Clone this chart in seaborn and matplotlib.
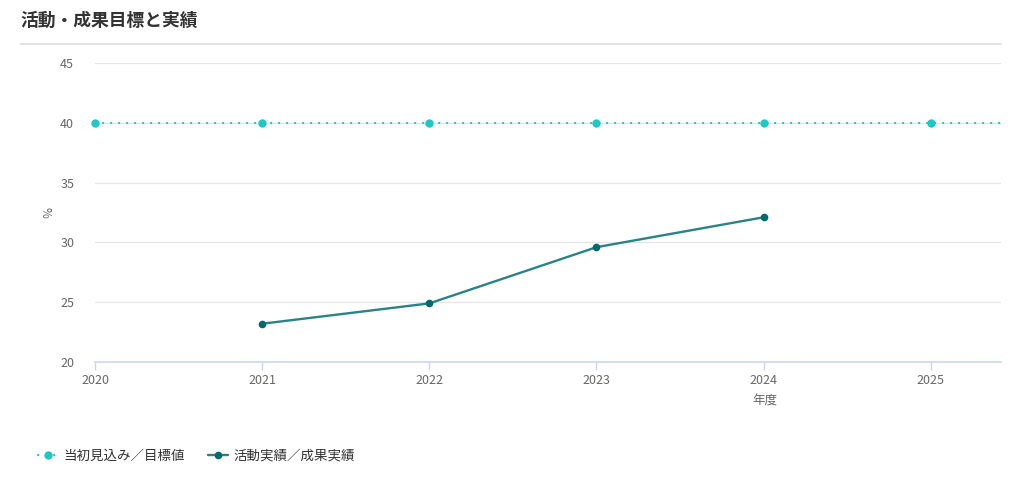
import pandas as pd
import matplotlib
matplotlib.use("Agg")
import matplotlib.pyplot as plt
import seaborn as sns
from matplotlib.lines import Line2D
from matplotlib.patches import Rectangle

years_target = [2020, 2021, 2022, 2023, 2024, 2025, 2026]
target = [40, 40, 40, 40, 40, 40, 40]
years_actual = [2021, 2022, 2023, 2024]
actual = [23.2, 24.9, 29.6, 32.1]

label_target = "当初見込み／目標値"
label_actual = "活動実績／成果実績"
yticks = [20, 25, 30, 35, 40, 45]
xticks = [2020, 2021, 2022, 2023, 2024, 2025]

sns.set_theme(style="white")
plt.rcParams["font.family"] = ["Noto Sans CJK JP", "DejaVu Sans"]

cyan = "#1ec8c4"
dark = "#006b6e"
dark_line = "#2a8385"
dots = (0, (0.1, 3.5))

df_t = pd.DataFrame({"year": years_target, "value": target})
df_a = pd.DataFrame({"year": years_actual, "value": actual})

fig = plt.figure(figsize=(10.11, 4.78), dpi=100)
ax = fig.add_axes([95 / 1011, 116 / 478, 906 / 1011, 299 / 478])

sns.lineplot(data=df_t, x="year", y="value", ax=ax, color=cyan, lw=1.6,
             marker="o", markersize=6, markeredgewidth=0)
sns.lineplot(data=df_a, x="year", y="value", ax=ax, color=dark_line, lw=1.7,
             marker="o", markersize=5.5, markerfacecolor=dark,
             markeredgewidth=0, clip_on=False)

# dotted target line, clipped only at the right edge
tline = ax.lines[0]
tline.set_linestyle(dots)
tline.set_dash_capstyle("round")
tline.set_clip_path(Rectangle((-0.05, -0.1), 1.05, 1.2, transform=ax.transAxes))

ax.set_xlim(2020, 2025.42)
ax.set_ylim(20, 45)
ax.set_yticks(yticks)
ax.set_xticks(xticks)
ax.yaxis.grid(True, color="#e6e6e6", lw=1)
ax.xaxis.grid(False)
for s in ["top", "right", "left"]:
    ax.spines[s].set_visible(False)
ax.spines["bottom"].set_color("#ccd6eb")
ax.spines["bottom"].set_linewidth(1.2)
ax.tick_params(axis="x", bottom=True, length=6, width=1, color="#ccd6eb",
               labelsize=9, labelcolor="#666666", pad=3)
ax.tick_params(axis="y", left=False, labelsize=9, labelcolor="#666666", pad=9)
ax.set_xlabel("")
ax.set_ylabel("")

fig.text(765 / 1011, 1 - 400 / 478, "年度", ha="center", va="center",
         fontsize=9, color="#666666")
fig.text(45 / 1011, 1 - 212 / 478, "%", ha="center", va="center",
         fontsize=8.5, color="#666666", rotation=-90)

fig.text(20 / 1011, 1 - 21 / 478, "活動・成果目標と実績", ha="left", va="center",
         fontsize=12.8, color="#333333", fontweight="bold")
fig.add_artist(Line2D([20 / 1011, 1001 / 1011], [1 - 44 / 478, 1 - 44 / 478],
                      transform=fig.transFigure, color="#dddddd", lw=1.2))

handles = [
    Line2D([], [], color=cyan, lw=1.6, linestyle=dots, dash_capstyle="round",
           marker="o", markersize=6, markeredgewidth=0),
    Line2D([], [], color=dark_line, lw=1.7, marker="o", markersize=5.5,
           markerfacecolor=dark, markeredgewidth=0),
]
fig.legend(handles, [label_target, label_actual], loc="center left",
           bbox_to_anchor=(26 / 1011, 1 - 456 / 478), ncol=2, frameon=False,
           fontsize=9.7, labelcolor="#333333", handlelength=1.5,
           handletextpad=0.4, columnspacing=1.7)

fig.savefig("out.png", dpi=100)
